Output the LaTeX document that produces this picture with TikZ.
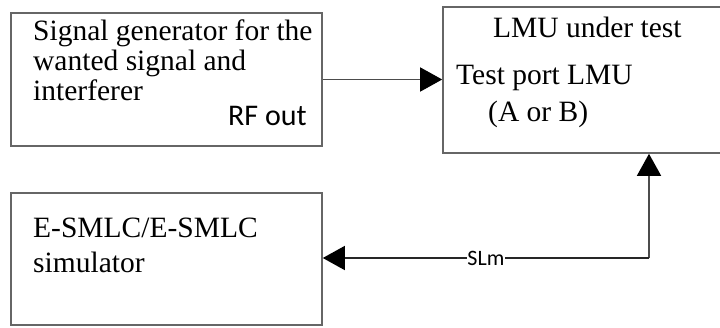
\documentclass[tikz,border=0pt]{standalone}
\usepackage{fontspec}
\setmainfont{Liberation Serif}
\newfontfamily\calib{Carlito}
\usetikzlibrary{arrows.meta}
\begin{document}
\begin{tikzpicture}[x=1pt,y=-1pt,
  box/.style={draw=black!60,line width=1.6pt,minimum width=#1,inner sep=0pt},
  txt/.style={anchor=base west,inner sep=0pt,font=\fontsize{29.5}{33}\selectfont},
  sans/.style={anchor=base west,inner sep=0pt,font=\calib\fontsize{30}{33}\selectfont},
  arr/.style={draw=black!70,line width=1.5pt,-{Triangle[length=22pt,width=24pt,black]}}]
\useasboundingbox (0,0) rectangle (720,327);
\clip (0,0) rectangle (720,327);
\fill[white] (0,0) rectangle (720,327);
\node[box=311pt,minimum height=133pt] (b1) at (166.5,79.5) {};
\node[box=287pt,minimum height=146pt] (b2) at (586.5,80) {};
\node[box=311pt,minimum height=132pt] (b3) at (166.5,259) {};
\node[txt] (t1) at (33,40) {Signal generator for the};
\node[txt] (t2) at (33,70) {wanted signal and};
\node[txt] (t3) at (33,100) {interferer};
\node[sans] (rf) at (228,125) {RF out};
\node[txt] (t4) at (493,37) {LMU under test};
\node[txt] (t5) at (456,84) {Test port LMU};
\node[txt] (t6) at (488,121) {(A or B)};
\node[txt] (t7) at (33,237) {E-SMLC/E-SMLC};
\node[txt] (t8) at (33,272) {simulator};
\draw[arr] (b1.east) -- (b2.west |- b1.east);
\coordinate (c) at (649,258);
\draw[arr] (c) -- (c |- b2.south);
\draw[arr,draw=black!85] (c) -- node[fill=white,inner sep=0.5pt,font=\calib\fontsize{22}{24}\selectfont] (sl) {SLm} (c -| b3.east);
\end{tikzpicture}
\end{document}
